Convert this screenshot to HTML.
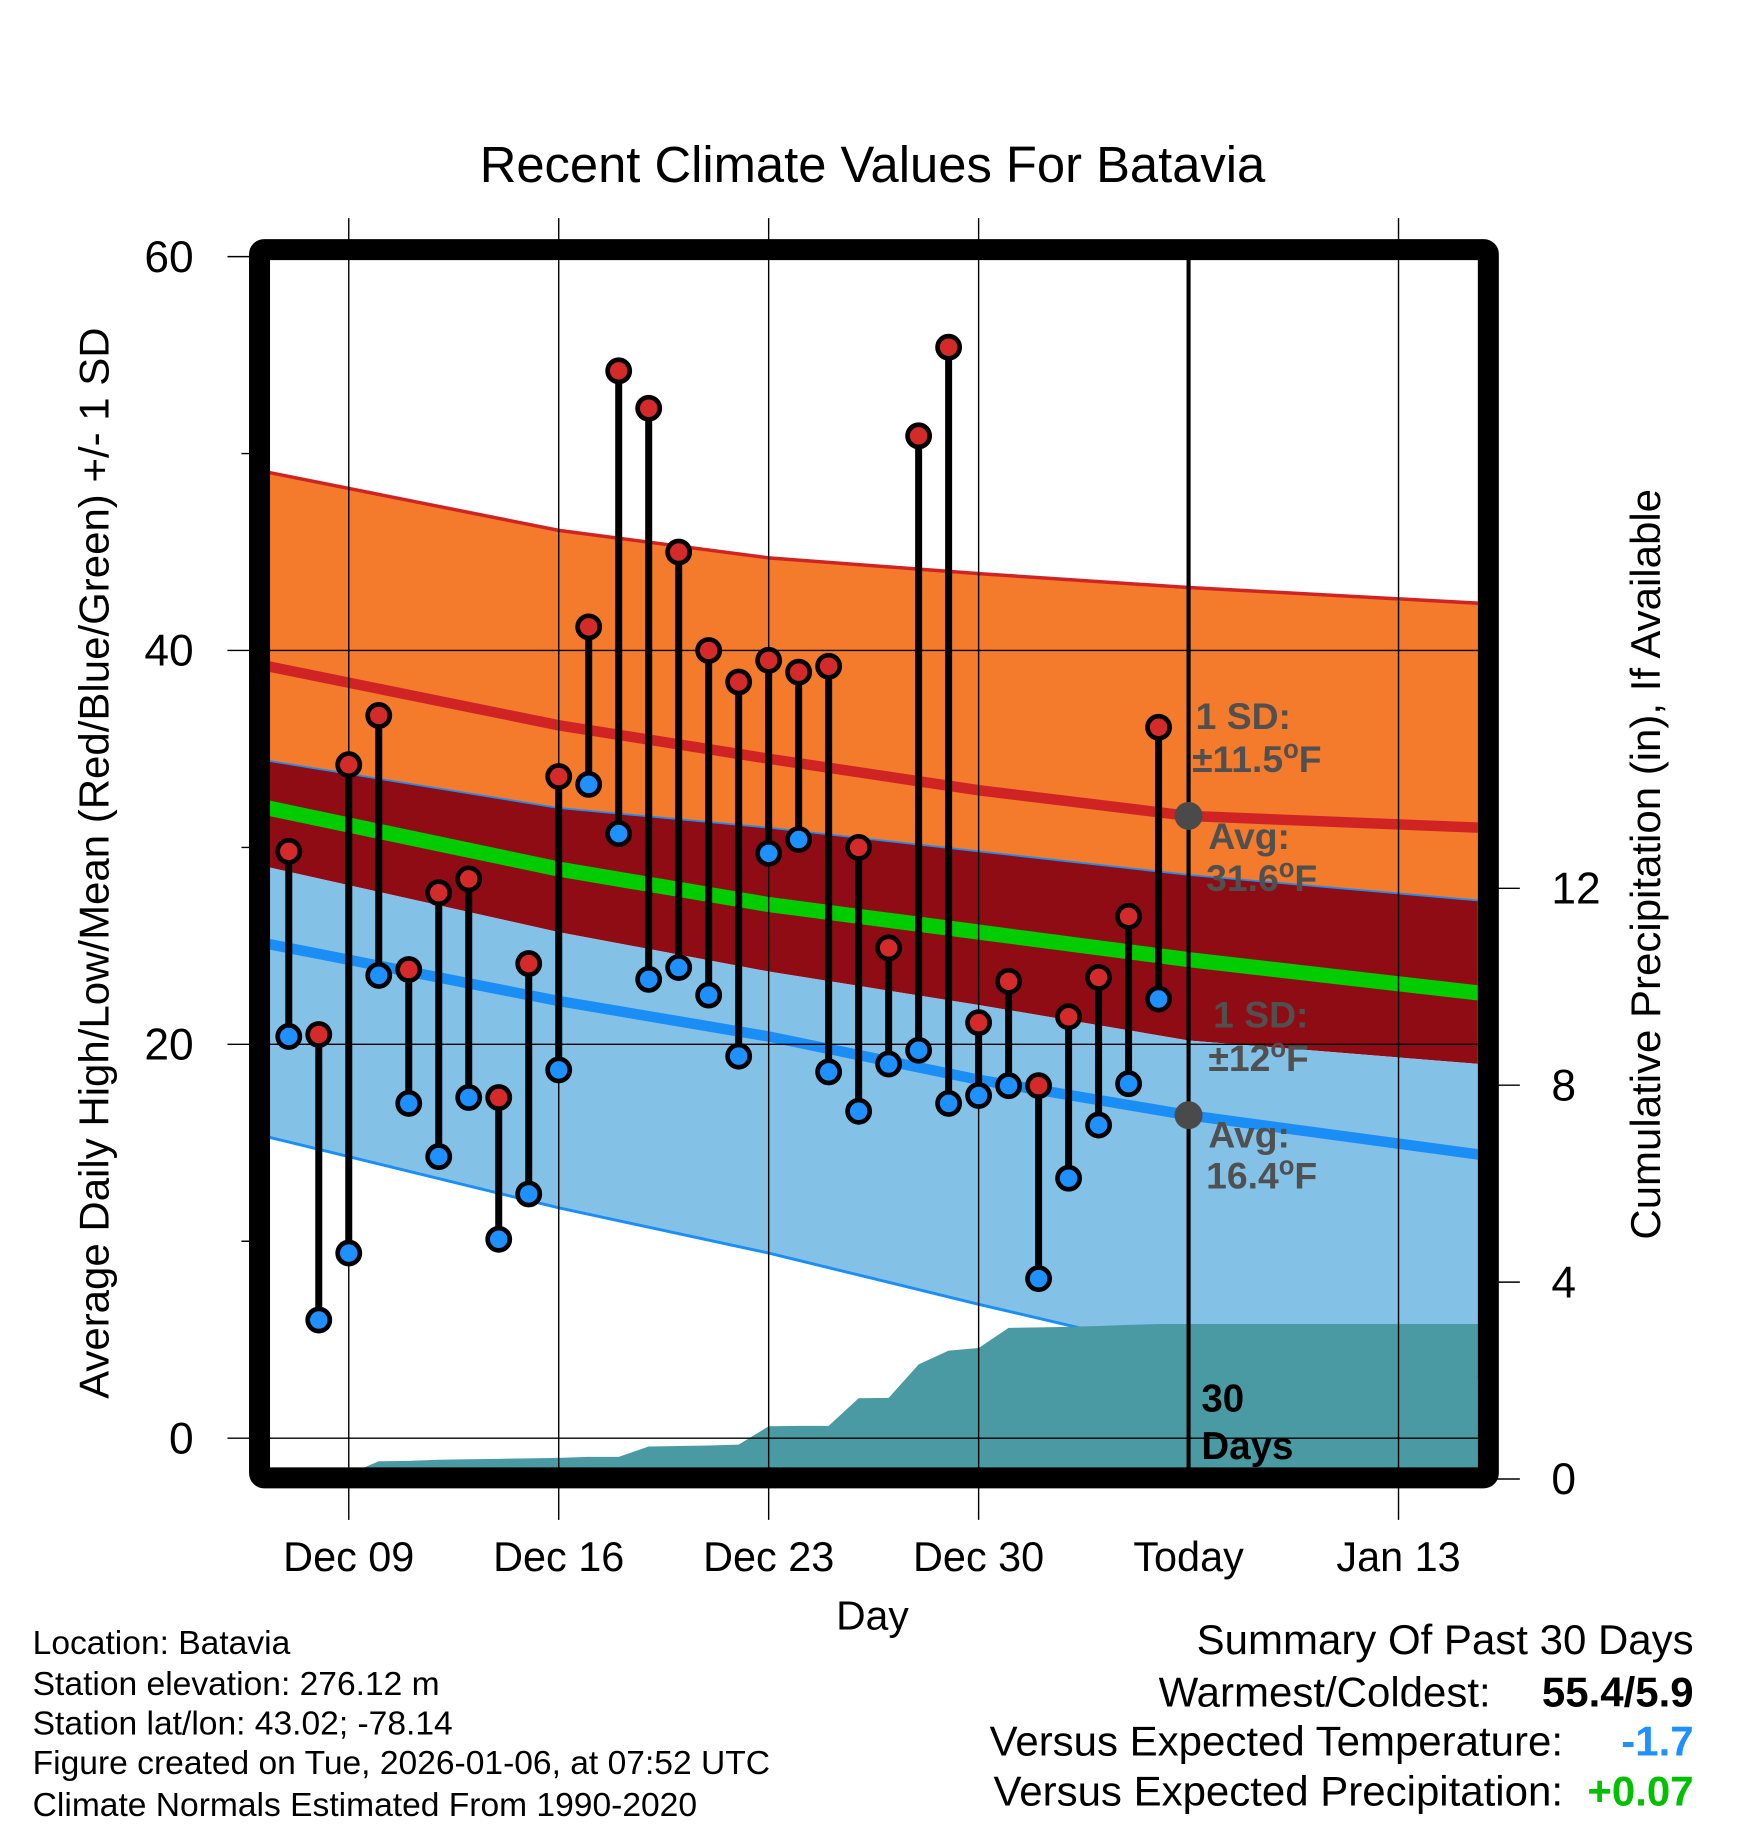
<!DOCTYPE html>
<html><head><meta charset="utf-8">
<style>
html,body{margin:0;padding:0;background:#fff;}
svg{display:block;}
text{font-family:"Liberation Sans",Arial,sans-serif;}
</style></head>
<body>
<svg id="chart" width="1748" height="1828" viewBox="0 0 1498.6 1567.2" xmlns="http://www.w3.org/2000/svg">
<defs><clipPath id="plotclip"><rect x="231" y="220" width="1036" height="1040"/></clipPath></defs>
<rect x="0" y="0" width="1498.6" height="1567.2" fill="#fff"/>
<g id="bands" clip-path="url(#plotclip)"></g>
<g id="precip" clip-path="url(#plotclip)"></g>
<g id="grid"></g>
<g id="marks"></g>
<g id="annot" font-size="32" font-weight="bold" fill="#505050">
  <text x="1025" y="625">1 SD:</text>
  <text x="1022" y="662">±11.5<tspan dy="-12" font-size="22">o</tspan><tspan dy="12">F</tspan></text>
  <text x="1036" y="728">Avg:</text>
  <text x="1034" y="764">31.6<tspan dy="-12" font-size="22">o</tspan><tspan dy="12">F</tspan></text>
  <text x="1040" y="881">1 SD:</text>
  <text x="1036" y="918">±12<tspan dy="-12" font-size="22">o</tspan><tspan dy="12">F</tspan></text>
  <text x="1036" y="984">Avg:</text>
  <text x="1034" y="1019">16.4<tspan dy="-12" font-size="22">o</tspan><tspan dy="12">F</tspan></text>
  <text x="1030" y="1210" font-size="33" fill="#000">30</text>
  <text x="1030" y="1251" font-size="33" fill="#000">Days</text>
</g>
<rect x="222.5" y="214" width="1053.5" height="1053" fill="none" stroke="#000" stroke-width="18" rx="4"/>
<text x="748" y="156" font-size="43.5" text-anchor="middle">Recent Climate Values For Batavia</text>
<text transform="translate(93,740) rotate(-90)" font-size="36" text-anchor="middle">Average Daily High/Low/Mean (Red/Blue/Green) +/- 1 SD</text>
<text transform="translate(1423,741) rotate(-90)" font-size="36" text-anchor="middle">Cumulative Precipitation (in), If Available</text>
<text x="748" y="1397" font-size="35" text-anchor="middle">Day</text>
<g font-size="28.8">
  <text x="28" y="1418">Location: Batavia</text>
  <text x="28" y="1453">Station elevation: 276.12 m</text>
  <text x="28" y="1487">Station lat/lon: 43.02; -78.14</text>
  <text x="28" y="1521">Figure created on Tue, 2026-01-06, at 07:52 UTC</text>
  <text x="28" y="1557">Climate Normals Estimated From 1990-2020</text>
</g>
<g font-size="36">
  <text x="1452" y="1418" text-anchor="end">Summary Of Past 30 Days</text>
  <text x="1278" y="1463" text-anchor="end">Warmest/Coldest:</text>
  <text x="1452" y="1463" text-anchor="end" font-weight="bold">55.4/5.9</text>
  <text x="1340" y="1505" text-anchor="end">Versus Expected Temperature:</text>
  <text x="1452" y="1505" text-anchor="end" font-weight="bold" fill="#1e90ff">-1.7</text>
  <text x="1340" y="1548" text-anchor="end">Versus Expected Precipitation:</text>
  <text x="1452" y="1548" text-anchor="end" font-weight="bold" fill="#00c000">+0.07</text>
</g>
</svg>
<script>
// day index relative to Dec 09 (=0)
const dayStart = -2;  // Dec 07
const highs = [29.8,20.5,34.2,36.7,23.8,27.7,28.4,17.3,24.1,33.6,41.2,54.2,52.3,45.0,40.0,38.4,39.5,38.9,39.2,30.0,24.9,50.9,55.4,21.1,23.2,17.9,21.4,23.4,26.5,36.1];
const lows  = [20.4,6.0,9.4,23.5,17.0,14.3,17.3,10.1,12.4,18.7,33.2,30.7,23.3,23.9,22.5,19.4,29.7,30.4,18.6,16.6,19.0,19.7,17.0,17.4,17.9,8.1,13.2,15.9,18.0,22.3];
const precipCum = [0,0,0.1,0.36,0.37,0.39,0.40,0.41,0.42,0.43,0.45,0.45,0.66,0.67,0.68,0.70,1.07,1.08,1.08,1.64,1.65,2.33,2.61,2.66,3.07,3.08,3.09,3.11,3.13,3.15];
const normDays = [-2.7,7,14,21,28,37.7];
const highUpper = [49.05,46.1,44.7,43.9,43.2,42.4];
const highMean  = [39.2,36.2,34.5,32.9,31.6,31.0];
const highLower = [34.4,32.0,31.0,29.8,28.6,27.3];
const meanLine  = [32.0,28.9,27.1,25.7,24.3,22.6];
const lowUpper  = [29.0,25.7,23.7,22.0,20.2,19.0];
const lowMean   = [25.1,22.2,20.4,18.2,16.4,14.4];
const lowLower  = [15.3,11.7,9.4,6.8,4.3,3.1];
const xTickDays = [0,7,14,21,28,35];
const xTickLabels = ["Dec 09","Dec 16","Dec 23","Dec 30","Today","Jan 13"];
const yTicks = [0,10,20,30,40,50,60];
const yLabels = [0,20,40,60];
const pTicks = [0,4,8,12];

const NS="http://www.w3.org/2000/svg";
function X(d){return 299+25.714*d;}
function Y(v){return 1233-16.883*v;}
function P(p){return 1268-42.2*p;}
function mk(tag,attrs,parent){const e=document.createElementNS(NS,tag);for(const k in attrs)e.setAttribute(k,attrs[k]);parent.appendChild(e);return e;}
function pts(arr){return normDays.map((d,i)=>X(d).toFixed(1)+","+Y(arr[i]).toFixed(1));}
function band(top,bot,fill,name,parent){
  const p=mk('polygon',{points:pts(top).concat(pts(bot).reverse()).join(" "),fill:fill},parent);
  
  
}
function line(arr,color,w,name,parent){
  const p=mk('polyline',{points:pts(arr).join(" "),fill:"none",stroke:color,"stroke-width":w},parent);
  
  
}
const bands=document.getElementById('bands');
band(highUpper,highLower,"#f47a2c","high-sd-band",bands);
band(highLower,lowUpper,"#8f0c14","overlap-band",bands);
band(lowUpper,lowLower,"#83c1e6","low-sd-band",bands);
line(highUpper,"#d02424",3,"high-upper-line",bands);
line(highMean,"#d02424",9,"high-mean-line",bands);
line(highLower,"#1b8ef5",1.5,"high-lower-line",bands);
line(meanLine,"#00cc00",13,"mean-line",bands);
line(lowMean,"#1b8ef5",9,"low-mean-line",bands);
line(lowLower,"#1b8ef5",2.5,"low-lower-line",bands);

// precipitation
const pg=document.getElementById('precip');
let pp=[X(dayStart-1)+","+P(0)];
precipCum.forEach((v,i)=>pp.push(X(dayStart+i).toFixed(1)+","+P(v).toFixed(1)));
pp.push(X(40)+","+P(precipCum[precipCum.length-1]).toFixed(1));
pp.push(X(40)+","+P(0));
const parea=mk('polygon',{points:pp.join(" "),fill:"#4a9aa3"},pg);



// grid & axes
const g=document.getElementById('grid');
xTickDays.forEach((d,i)=>{
  if(xTickLabels[i]!=="Today"){
    const l=mk('line',{x1:X(d),x2:X(d),y1:187,y2:1303,stroke:"#000","stroke-width":1.2},g);
    
    
  } else {
    const l=mk('line',{x1:X(d),x2:X(d),y1:220,y2:1260,stroke:"#000","stroke-width":3.5},g);
    
    
  }
  const t=mk('text',{x:X(d),y:1347,"font-size":35.5,"text-anchor":"middle"},g);
  t.textContent=xTickLabels[i];
  
  
});
yTicks.forEach(v=>{
  const major=yLabels.includes(v);
  const l=mk('line',{x1:major?195:207,x2:major&&v<60?1267:222,y1:Y(v),y2:Y(v),stroke:"#000","stroke-width":1.2},g);
  
  
  if(major){
    const t=mk('text',{x:166,y:Y(v)+13,"font-size":38,"text-anchor":"end"},g);
    t.textContent=v;
    
    
  }
});
pTicks.forEach(v=>{
  const l=mk('line',{x1:1276,x2:1303,y1:P(v),y2:P(v),stroke:"#000","stroke-width":1.2},g);
  
  
  const t=mk('text',{x:1330,y:P(v)+13,"font-size":38,"text-anchor":"start"},g);
  t.textContent=v;
  
  
});

// daily marks
const m=document.getElementById('marks');
highs.forEach((h,i)=>{
  const x=X(dayStart+i);
  const s=mk('line',{x1:x,x2:x,y1:Y(h),y2:Y(lows[i]),stroke:"#000","stroke-width":6},m);
  
  
});
highs.forEach((h,i)=>{
  const x=X(dayStart+i);
  const c1=mk('circle',{cx:x,cy:Y(h),r:9.5,fill:"#d42a2a",stroke:"#000","stroke-width":4},m);
  
  
  const c2=mk('circle',{cx:x,cy:Y(lows[i]),r:9.5,fill:"#1e90ff",stroke:"#000","stroke-width":4},m);
  
  
});
// avg dots at today
[highMean,lowMean].forEach(arr=>{
  const c=mk('circle',{cx:X(28),cy:Y(arr[4]),r:12,fill:"#4a4a4a"},m);
  
  
});
</script>
</body></html>
